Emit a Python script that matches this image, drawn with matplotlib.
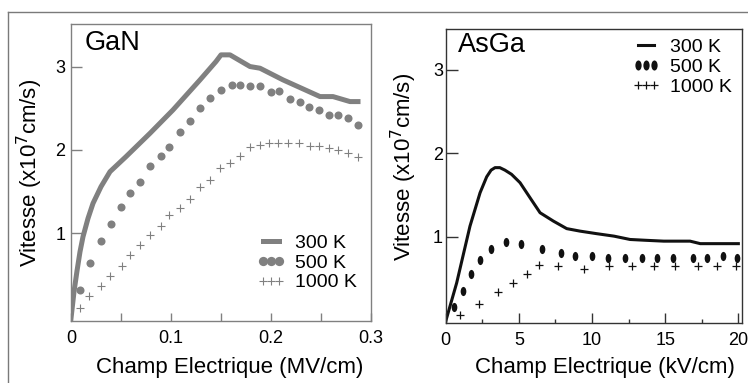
import numpy as np
import matplotlib
matplotlib.use("Agg")
import matplotlib.pyplot as plt
from matplotlib.path import Path
from matplotlib.lines import Line2D
from matplotlib.ticker import MultipleLocator

plt.rcParams['font.family'] = ['Liberation Sans', 'DejaVu Sans']

# GaN, field in MV/cm, speed in 1e7 cm/s
gan_300_x = [0.0, 0.003, 0.006, 0.009, 0.012, 0.017, 0.022, 0.030, 0.039, 0.055, 0.079,
             0.102, 0.129, 0.145, 0.150, 0.159, 0.179, 0.189, 0.212, 0.249, 0.262,
             0.279, 0.287]
gan_300_y = [-0.02, 0.30, 0.55, 0.78, 0.96, 1.18, 1.36, 1.56, 1.74, 1.92, 2.2,
             2.48, 2.84, 3.06, 3.14, 3.14, 3.0, 2.98, 2.84, 2.64, 2.64,
             2.58, 2.58]
gan_500_x = [0.0087, 0.0187, 0.030, 0.040, 0.050, 0.059, 0.069, 0.079, 0.090, 0.098,
             0.109, 0.119, 0.129, 0.139, 0.150, 0.161, 0.169, 0.179, 0.189, 0.200,
             0.208, 0.219, 0.229, 0.238, 0.248, 0.258, 0.267, 0.277, 0.287]
gan_500_y = [0.32, 0.64, 0.91, 1.11, 1.32, 1.49, 1.62, 1.81, 1.93, 2.04,
             2.22, 2.35, 2.50, 2.62, 2.72, 2.78, 2.78, 2.77, 2.77, 2.69,
             2.71, 2.61, 2.58, 2.52, 2.48, 2.42, 2.42, 2.38, 2.30]
gan_1000_x = [0.0093, 0.018, 0.030, 0.039, 0.051, 0.059, 0.069, 0.079, 0.090, 0.098,
              0.109, 0.119, 0.129, 0.139, 0.149, 0.159, 0.169, 0.179, 0.189, 0.198,
              0.207, 0.217, 0.228, 0.239, 0.248, 0.258, 0.267, 0.277, 0.287]
gan_1000_y = [0.10, 0.25, 0.37, 0.49, 0.61, 0.74, 0.86, 0.98, 1.09, 1.22,
              1.31, 1.41, 1.56, 1.64, 1.78, 1.84, 1.93, 2.04, 2.06, 2.08,
              2.08, 2.08, 2.08, 2.05, 2.05, 2.02, 2.0, 1.96, 1.92]

# AsGa, field in kV/cm
asga_300_x = [0.0, 0.75, 1.66, 2.35, 2.8, 3.1, 3.37, 3.7, 4.05, 4.5, 5.08, 5.8, 6.45,
              7.36, 8.27, 9.18, 10.3, 11.5, 12.6, 13.7, 14.9, 16.7, 17.4, 20.0]
asga_300_y = [-0.01, 0.45, 1.13, 1.53, 1.72, 1.80, 1.83, 1.83, 1.80, 1.75, 1.65, 1.46, 1.29,
              1.19, 1.10, 1.07, 1.04, 1.01, 0.97, 0.96, 0.95, 0.95, 0.92, 0.92]
asga_500_x = [0.57, 1.16, 1.71, 2.35, 3.08, 4.10, 5.17, 6.56, 7.86, 8.84,
              9.98, 11.07, 12.26, 13.39, 14.46, 15.56, 16.88, 17.88, 18.93, 19.89]
asga_500_y = [0.16, 0.35, 0.56, 0.72, 0.86, 0.94, 0.91, 0.86, 0.81, 0.77,
              0.77, 0.75, 0.75, 0.75, 0.75, 0.75, 0.75, 0.75, 0.77, 0.75]
asga_1000_x = [0.98, 2.26, 3.58, 4.58, 5.58, 6.40, 7.65, 9.45, 11.14, 12.76,
               14.26, 15.67, 17.27, 18.56, 19.84]
asga_1000_y = [0.06, 0.20, 0.34, 0.45, 0.56, 0.66, 0.65, 0.62, 0.65, 0.65,
               0.65, 0.65, 0.65, 0.65, 0.65]

labels = ["300 K", "500 K", "1000 K"]
ylabel = "Vitesse (x10$^{7}$cm/s)"

# tall ellipse marker for the AsGa dots
ell = Path.unit_circle().transformed(matplotlib.transforms.Affine2D().scale(0.62, 1.0))

fig = plt.figure(figsize=(7.48, 3.83), dpi=100)

# outer frame (top and left edges)
fig.add_artist(Line2D([8/748, 1.0], [1 - 11.5/383, 1 - 11.5/383],
                      transform=fig.transFigure, color="#7a7a7a", lw=1))
fig.add_artist(Line2D([8/748, 8/748], [0, 1 - 11.5/383],
                      transform=fig.transFigure, color="#7a7a7a", lw=1))

# ---- GaN ----
gray = "#808080"
ax1 = fig.add_axes([71/748, 62/383, 300/748, 297/383])
ax1.plot(gan_300_x, gan_300_y, color=gray, lw=3.6, label=labels[0])
ax1.plot(gan_500_x, gan_500_y, ls="none", marker="o", ms=5.8, color=gray,
         mec="none", label=labels[1])
ax1.plot(gan_1000_x, gan_1000_y, ls="none", marker="+", ms=5.2, mew=0.8, color=gray,
         label=labels[2])
ax1.set_xlim(0, 0.2995)
ax1.set_ylim(-0.05, 3.51)
ax1.xaxis.set_minor_locator(MultipleLocator(0.05))
ax1.set_xticks([0, 0.1, 0.2, 0.3])
ax1.set_xticklabels(["0", "0.1", "0.2", "0.3"])
ax1.set_yticks([1, 2, 3])
ax1.tick_params(axis="both", which="both", direction="in", color=gray, width=1,
                labelsize=13, top=False, right=False)
ax1.tick_params(axis="x", which="both", length=6, pad=6.5)
ax1.tick_params(axis="y", length=8, pad=4)
for s in ax1.spines.values():
    s.set_color(gray)
    s.set_linewidth(1)
ax1.set_xlabel("Champ Electrique (MV/cm)", fontsize=16, va="center")
ax1.xaxis.set_label_coords(0.528, -0.155)
ax1.set_ylabel(ylabel, fontsize=16, va="center")
ax1.yaxis.set_label_coords(-0.137, 0.5)
ax1.text(0.047, 0.936, "GaN", transform=ax1.transAxes, fontsize=19.5, va="center")
ax1.legend(loc="upper left", bbox_to_anchor=(0.62, 0.293), frameon=False,
           fontsize=14, numpoints=3, handlelength=1.45, handletextpad=0.5,
           labelspacing=0.12, borderpad=0, borderaxespad=0, markerscale=1.15)

# ---- AsGa ----
dark = "#111111"
ax2 = fig.add_axes([445.7/748, 60/383, 296.3/748, 294/383])
ax2.plot(asga_300_x, asga_300_y, color=dark, lw=2.2, label=labels[0])
ax2.plot(asga_500_x, asga_500_y, ls="none", marker=ell, ms=6.6, color=dark,
         mec="none", label=labels[1])
ax2.plot(asga_1000_x, asga_1000_y, ls="none", marker="+", ms=5.2, mew=0.9, color=dark,
         label=labels[2])
ax2.set_xlim(0, 20.25)
ax2.set_ylim(-0.03, 3.49)
ax2.set_xticks([0, 5, 10, 15, 20])
ax2.xaxis.set_minor_locator(MultipleLocator(2.5))
ax2.set_yticks([1, 2, 3])
ax2.tick_params(axis="both", which="both", direction="in", color="#333333", width=1,
                labelsize=13, top=False, right=False)
ax2.tick_params(axis="x", which="major", length=7, pad=6.5)
ax2.tick_params(axis="x", which="minor", length=3)
ax2.tick_params(axis="y", length=8.5, pad=2)
for s in ax2.spines.values():
    s.set_color("#333333")
    s.set_linewidth(1)
ax2.set_xlabel("Champ Electrique (kV/cm)", fontsize=16, va="center")
ax2.xaxis.set_label_coords(0.538, -0.15)
ax2.set_ylabel(ylabel, fontsize=16, va="center")
ax2.yaxis.set_label_coords(-0.141, 0.532)
ax2.text(0.042, 0.946, "AsGa", transform=ax2.transAxes, fontsize=19.5, va="center")
ax2.legend(loc="upper left", bbox_to_anchor=(0.629, 0.969), frameon=False,
           fontsize=14, numpoints=3, handlelength=1.45, handletextpad=0.5,
           labelspacing=0.12, borderpad=0, borderaxespad=0, markerscale=1.1)

fig.savefig("out.png", dpi=100)
